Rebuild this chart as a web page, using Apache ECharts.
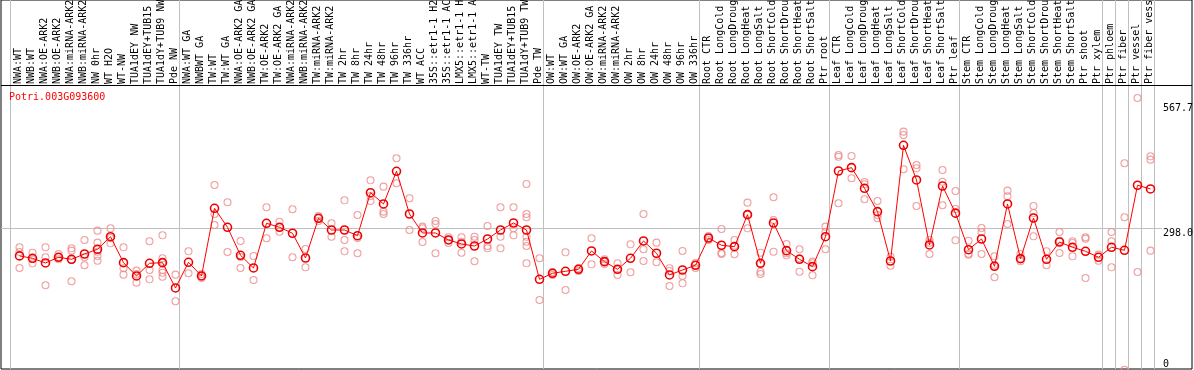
<!DOCTYPE html>
<html><head><meta charset="utf-8">
<script src="https://cdn.jsdelivr.net/npm/echarts@6/dist/echarts.min.js"></script>
<style>html,body{margin:0;padding:0;background:#fff}#c{width:1194px;height:370px}</style>
</head><body><div id="c"></div>
<script>
const geneId = 'Potri.003G093600';
const categories = [
'NWA:WT','NWB:WT','NWA:OE-ARK2','NWB:OE-ARK2','NWA:miRNA-ARK2','NWB:miRNA-ARK2','NW 0hr','WT H2O','WT-NW','TUA1dEY NW','TUA1dEY+TUB15','TUA1dY+TUB9 NW','Pde NW',
'NWA:WT GA','NWBWT GA','TW:WT','TW:WT GA','NWA:OE-ARK2 GA','NWB:OE-ARK2 GA','TW:OE-ARK2','TW:OE-ARK2 GA','NWA:miRNA-ARK2','NWB:miRNA-ARK2','TW:miRNA-ARK2','TW:miRNA-ARK2',
'TW 2hr','TW 8hr','TW 24hr','TW 48hr','TW 96hr','TW 336hr','WT ACC','35S::etr1-1 H2','35S::etr1-1 AC','LMX5::etr1-1 H','LMX5::etr1-1 A','WT-TW','TUA1dEY TW','TUA1dEY+TUB15','TUA1dY+TUB9 TW','Pde TW',
'OW:WT','OW:WT GA','OW:OE-ARK2','OW:OE-ARK2 GA','OW:miRNA-ARK2','OW:miRNA-ARK2','OW 2hr','OW 8hr','OW 24hr','OW 48hr','OW 96hr','OW 336hr',
'Root CTR','Root LongCold','Root LongDroug','Root LongHeat','Root LongSalt','Root ShortCold','Root ShortDrou','Root ShortHeat','Root ShortSalt','Ptr root',
'Leaf CTR','Leaf LongCold','Leaf LongDroug','Leaf LongHeat','Leaf LongSalt','Leaf ShortCold','Leaf ShortDrou','Leaf ShortHeat','Leaf ShortSalt','Ptr leaf',
'Stem CTR','Stem LongCold','Stem LongDroug','Stem LongHeat','Stem LongSalt','Stem ShortCold','Stem ShortDrou','Stem ShortHeat','Stem ShortSalt','Ptr shoot','Ptr xylem',
'Ptr phloem','Ptr fiber','Ptr vessel','Ptr fiber vess'
];
const means = [
240.0,235.1,225.4,237.2,233.0,244.0,253.8,279.9,226.0,198.4,224.7,226.0,173.5,
226.8,198.4,338.8,299.4,241.3,215.0,307.7,299.4,287.0,235.7,318.1,293.8,
293.8,282.0,371.2,347.8,415.6,327.0,287.6,287.6,273.1,264.8,260.6,275.1,293.8,308.3,293.8,191.5,
204.0,208.1,212.3,250.3,228.1,212.3,235.1,271.0,245.5,200.5,210.8,220.6,
277.2,262.1,259.2,325.6,224.7,308.3,250.9,233.0,217.7,279.9,
416.2,423.1,380.3,331.8,229.5,469.5,397.6,262.7,385.1,328.7,
252.9,275.1,218.5,347.8,234.3,318.7,233.0,268.9,257.9,249.6,237.2,
257.9,251.7,386.6,378.9
];
const replicates = [
[257.9,248.2,215.0],[246.7,233.6,224.7],[257.9,237.2,179.1],[244.0,237.8,233.0],[255.8,250.9,231.6,187.4],[273.1,237.2,220.6],[292.4,267.5,248.8,239.9,230.1],[297.3,277.2,266.2],[257.9,214.4,201.1],[209.4,202.5,184.5],[270.4,210.8,191.5],[282.8,235.1,227.4,210.8,205.2,196.9],[201.1,145.9],
[249.6,204.0],[202.5,198.4,194.2],[387.2,327.0,304.2],[351.3,248.2],[271.0,237.8,215.0],[239.9,190.1],[340.9,276.6],[311.0,299.4,290.3],[336.8,237.2],[254.4,216.4],[322.9,318.1,312.5],[307.7,279.9],
[355.4,273.1,249.6],[324.9,277.2,245.5],[396.9,364.4,354.0],[383.7,331.8,327.0],[442.6,390.7],[359.6,293.8],[300.7,297.3,268.9],[312.5,306.3,245.5],[278.7,273.1,266.9],[278.7,269.5,246.7],[279.9,273.1,228.9],[302.1,260.6,255.8],[340.9,279.9,255.8],[340.9,297.3,282.8],[389.3,327.0,320.2,279.9,269.5,260.6,224.7],[235.1,148.6],
[206.7,204.0,200.5],[247.5,169.3],[215.0,212.3,208.8],[276.6,222.6],[233.0,228.1,223.3],[224.7,212.3,200.5],[264.1,206.1],[327.0,253.8,229.5],[267.5,226.8],[214.4,208.8,177.6],[250.3,198.4,183.2],[225.4,221.2,215.0],
[281.4,277.2,273.1],[295.9,246.1,244.0],[273.1,261.2,243.4],[350.5,325.6,297.3],[246.7,224.7,207.3,202.5],[361.7,314.6,248.8],[264.8,245.5,241.3],[253.8,235.1,207.3],[228.1,224.7,199.8],[300.7,290.3,253.8],
[449.4,445.9,349.2],[447.3,401.1],[393.4,388.6,357.5],[354.0,324.9,318.1],[238.4,219.7],[497.8,490.9,419.8],[428.7,421.8,343.6],[273.1,267.5,244.0],[418.3,394.0,345.1],[374.7,337.4,272.4],
[271.6,244.6,242.6],[298.0,289.1,244.0],[239.2,221.8,195.7],[375.4,363.7,306.3],[244.0,234.3,228.9],[343.6,329.1,280.7],[249.6,220.6],[289.7,271.6,246.1],[270.4,266.9,239.2],[278.7,275.8,194.2],[242.6,230.1],
[289.7,270.4,216.4],[432.2,320.2,3.9],[567.7,206.7],[446.7,439.7,250.9]
];
// group boundaries (index of first category of each group; last = end)
const groupBreaks = [0,13,41,53,63,73,84,85,86,87,88];
const yTickValues = [567.7, 298.0, 0];
const yTickLabels = ['567.7','298.0','0'];
const refLineValue = 298.0;

// ---- layout ----
const FRAME_L = 1, FRAME_T = 0, FRAME_W = 1191, FRAME_H = 369;
const CAT_W = 13, FIRST_PT = 19.5, BAND_START = 10.5;
const ZERO_PX = 371.6, PX_PER_UNIT = 0.482;
const LABEL_BAND = 85.5;
const XMIN = -(FIRST_PT - FRAME_L) / CAT_W;
const XMAX = XMIN + FRAME_W / CAT_W;
const YMAX = (ZERO_PX - FRAME_T) / PX_PER_UNIT;
const YMIN = (ZERO_PX - (FRAME_T + FRAME_H)) / PX_PER_UNIT;
const bandOff = (FIRST_PT - BAND_START) / CAT_W;
const FONT = 'DejaVu Sans Mono';

const meanData = means.map((v, i) => [i, v]);
const repData = [];
replicates.forEach((arr, i) => arr.forEach(v => repData.push([i, v])));

const chart = echarts.init(document.getElementById('c'), null, {renderer: 'canvas'});
const dividerVal = (ZERO_PX - LABEL_BAND) / PX_PER_UNIT;
const refEndX = (1162 - FIRST_PT) / CAT_W;

chart.setOption({
  animation: false,
  backgroundColor: '#fff',
  title: {
    text: geneId, left: 9, top: 92, padding: 0,
    textStyle: {color: '#ff0000', fontFamily: FONT, fontSize: 10, fontWeight: 'normal'}
  },
  grid: [
    {left: FRAME_L, top: FRAME_T, width: FRAME_W, height: FRAME_H, show: true, borderColor: '#000', borderWidth: 1, backgroundColor: '#fff'},
    {left: BAND_START + 1.5, top: LABEL_BAND - 0.5, width: CAT_W * categories.length, height: 1, show: false}
  ],
  xAxis: [
    {type: 'value', gridIndex: 0, min: XMIN, max: XMAX, show: false},
    {type: 'category', gridIndex: 1, position: 'top', data: categories, boundaryGap: true,
     axisLine: {show: false}, axisTick: {show: false}, splitLine: {show: false},
     axisLabel: {interval: 0, rotate: 90, margin: 2, fontFamily: FONT, fontSize: 10, color: '#000'}}
  ],
  yAxis: [
    {type: 'value', gridIndex: 0, min: YMIN, max: YMAX, show: false},
    {type: 'value', gridIndex: 1, show: false}
  ],
  series: [
    {
      type: 'scatter', xAxisIndex: 0, yAxisIndex: 0, data: repData, clip: false, silent: true,
      symbol: 'circle', symbolSize: 7, z: 3,
      itemStyle: {color: 'rgba(0,0,0,0)', borderColor: '#ec8a8a', borderWidth: 1.1},
      markLine: {
        silent: true, symbol: 'none', label: {show: false}, z: 1,
        data: [
          ...groupBreaks.map(k => ({xAxis: k - bandOff, lineStyle: {color: '#c0c0c0', width: 1, type: 'solid'}})),
          {yAxis: dividerVal, lineStyle: {color: '#000', width: 1, type: 'solid'}},
          [{coord: [XMIN, refLineValue], lineStyle: {color: '#c0c0c0', width: 1, type: 'solid'}}, {coord: [refEndX, refLineValue]}]
        ]
      }
    },
    {
      type: 'line', xAxisIndex: 0, yAxisIndex: 0, data: meanData, clip: false, silent: true, z: 4,
      symbol: 'circle', symbolSize: 8, showSymbol: true,
      lineStyle: {color: '#ff0000', width: 1},
      itemStyle: {color: 'rgba(255,255,255,0)', borderColor: '#ee0000', borderWidth: 1.6}
    }
  ]
});

// right-hand value labels
const gfx = yTickValues.map((v, i) => {
  const py = chart.convertToPixel({xAxisIndex: 0, yAxisIndex: 0}, [0, v])[1];
  let top = Math.max(py, 103.5);
  top = Math.min(top, 359.5);
  return {type: 'text', x: 1163, y: top, style: {text: yTickLabels[i], fill: '#000', font: '10px ' + FONT, textVerticalAlign: 'top'}, z: 10};
});
chart.setOption({graphic: gfx});
</script></body></html>
